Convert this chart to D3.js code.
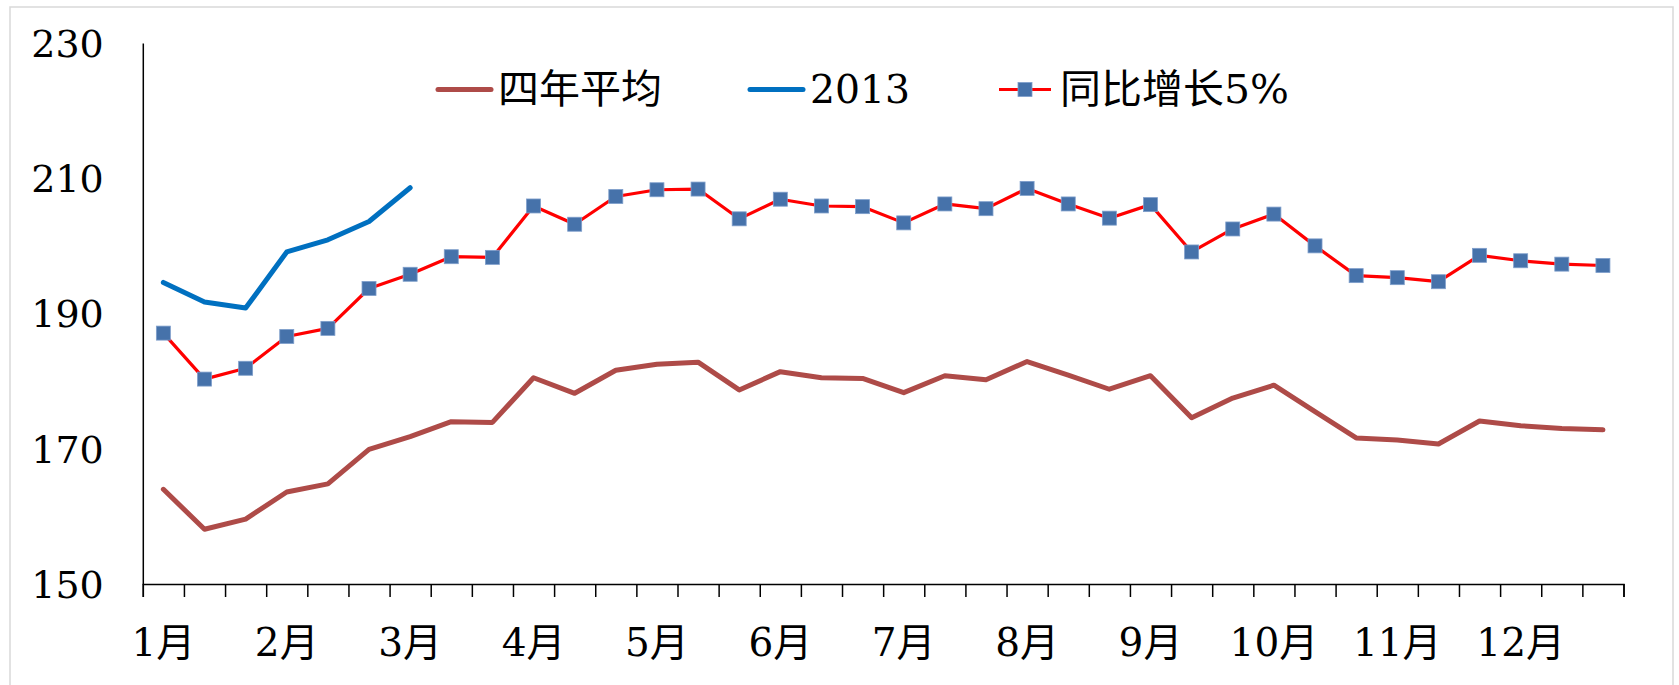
<!DOCTYPE html>
<html><head><meta charset="utf-8">
<script src="https://cdn.jsdelivr.net/npm/d3@7"></script>
<style>
html,body{margin:0;padding:0;background:#fff;}
svg{display:block;}
text{font-family:"DejaVu Serif","Noto Sans CJK SC",serif;fill:#000;}
</style></head>
<body>
<svg id="chart" width="1679" height="685"></svg>
<script>
// ---- data ----
const months = ["1月","2月","3月","4月","5月","6月","7月","8月","9月","10月","11月","12月"];
const dekads = ["上旬","中旬","下旬"];
const categories = months.flatMap(m => dekads.map(d => m + d));
const yTicks = [150, 170, 190, 210, 230];
const seriesNames = ["四年平均", "2013", "同比增长5%"];
const avg4 = [164.0,158.1,159.6,163.6,164.8,169.9,171.8,174.0,173.9,180.5,
              178.2,181.6,182.5,182.8,178.7,181.4,180.5,180.4,178.3,180.8,
              180.2,182.9,180.9,178.8,180.8,174.6,177.5,179.4,175.5,171.6,
              171.3,170.7,174.1,173.4,173.0,172.8];
const y2013 = [194.6,191.7,190.8,199.1,200.9,203.6,208.6];
const yoy5 = [187.1,180.3,181.9,186.6,187.8,193.7,195.8,198.4,198.3,205.9,
              203.2,207.3,208.3,208.4,204.0,206.9,205.9,205.8,203.4,206.2,
              205.5,208.5,206.2,204.1,206.1,199.1,202.5,204.7,200.0,195.6,
              195.3,194.7,198.6,197.8,197.3,197.1];

// ---- layout ----
const svg = d3.select("#chart");
const X0 = 142.8, X1 = 1623.5, YT = 43, YB = 584;
const fs = 38;

svg.append("rect").attr("x",10).attr("y",7).attr("width",1663).attr("height",700)
  .attr("fill","#fff").attr("stroke","#d9d9d9").attr("stroke-width",1.5);

const x = d3.scaleBand().domain(categories).range([X0, X1]).padding(0);
const xLin = d3.scaleLinear().domain([0, categories.length]).range([X0, X1]);
const y = d3.scaleLinear().domain([150, 230]).range([YB, YT]);
const cx = (i) => x(categories[i]) + x.bandwidth()/2;

// y axis
const yAxis = svg.append("g").attr("transform",`translate(${X0},0)`)
  .call(d3.axisLeft(y).tickValues(yTicks).tickSize(0).tickPadding(39));
yAxis.select(".domain").attr("stroke","#000").attr("stroke-width",1.5);
yAxis.selectAll("text").attr("font-size",fs).attr("font-family",null).attr("dy","0.35em");

// x axis ticks (at category boundaries)
const xTickAxis = svg.append("g").attr("transform",`translate(0,${YB})`)
  .call(d3.axisBottom(xLin).tickValues(d3.range(0, categories.length+1)).tickSize(13).tickFormat(""));
xTickAxis.select(".domain").attr("stroke","#000").attr("stroke-width",1.5);
xTickAxis.selectAll(".tick line").attr("stroke","#000").attr("stroke-width",1.5);

// x labels (month at first dekad)
const xLab = svg.append("g").attr("transform",`translate(0,${YB})`)
  .call(d3.axisBottom(x).tickValues(categories.filter((c,i)=>i%3===0))
    .tickSize(0).tickPadding(0).tickFormat(c => c.replace(/[上中下]旬$/,"")));
xLab.select(".domain").remove();
xLab.selectAll("text").attr("font-size",fs+1).attr("font-family",null)
  .attr("dy",null).attr("y",72);

// lines
const line = d3.line().x((d,i)=>cx(i)).y(d=>y(d));
svg.append("path").datum(avg4).attr("d",line).attr("fill","none")
  .attr("stroke","#AE4B48").attr("stroke-width",5).attr("stroke-linejoin","round").attr("stroke-linecap","round");
svg.append("path").datum(y2013).attr("d",line).attr("fill","none")
  .attr("stroke","#0070C0").attr("stroke-width",5).attr("stroke-linejoin","round").attr("stroke-linecap","round");
svg.append("path").datum(yoy5).attr("d",line).attr("fill","none")
  .attr("stroke","#FF0000").attr("stroke-width",3.2).attr("stroke-linejoin","round");
const ms = 14;
svg.append("g").selectAll("rect").data(yoy5).join("rect")
  .attr("x",(d,i)=>cx(i)-ms/2).attr("y",d=>y(d)-ms/2).attr("width",ms).attr("height",ms)
  .attr("fill","#4672AA").attr("stroke","#7E9ECB").attr("stroke-width",0.8);

// legend
const lg = svg.append("g");
const LY = 89.5, LB = 103;
lg.append("line").attr("x1",438).attr("x2",491).attr("y1",LY).attr("y2",LY)
  .attr("stroke","#AE4B48").attr("stroke-width",5).attr("stroke-linecap","round");
lg.append("text").attr("x",498).attr("y",LB).attr("font-size",fs+2)
  .attr("textLength",164).attr("lengthAdjust","spacingAndGlyphs").text(seriesNames[0]);
lg.append("line").attr("x1",750).attr("x2",803).attr("y1",LY).attr("y2",LY)
  .attr("stroke","#0070C0").attr("stroke-width",5).attr("stroke-linecap","round");
lg.append("text").attr("x",810).attr("y",LB).attr("font-size",fs+1)
  .attr("textLength",100).attr("lengthAdjust","spacingAndGlyphs").text(seriesNames[1]);
lg.append("line").attr("x1",999).attr("x2",1051).attr("y1",LY).attr("y2",LY)
  .attr("stroke","#FF0000").attr("stroke-width",3.2);
lg.append("rect").attr("x",1025-ms/2).attr("y",LY-ms/2).attr("width",ms).attr("height",ms)
  .attr("fill","#4672AA").attr("stroke","#7E9ECB").attr("stroke-width",0.8);
lg.append("text").attr("x",1060).attr("y",LB).attr("font-size",fs+2)
  .attr("textLength",229).attr("lengthAdjust","spacingAndGlyphs").text(seriesNames[2]);
</script>
</body></html>
